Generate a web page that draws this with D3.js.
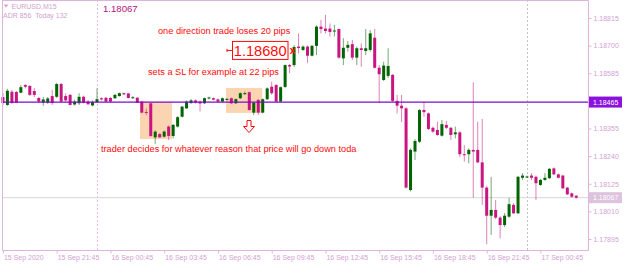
<!DOCTYPE html>
<html>
<head>
<meta charset="utf-8">
<script src="https://cdn.jsdelivr.net/npm/d3@7"></script>
<style>
html, body { margin: 0; padding: 0; background: #fff; overflow: hidden; }
svg { display: block; font-family: "Liberation Sans", Arial, sans-serif; }
</style>
</head>
<body>
<div class="container"></div>
<script>
const WIDTH = 625;
const HEIGHT = 265;
const PLOT_LEFT = 2;
const PLOT_RIGHT = 588;
const PLOT_BOTTOM = 250.5;

// EURUSD M15, first visible bar 15 Sep 18:45, one bar every 15 minutes
const FIRST_BAR = "2020-09-15 18:45";

const open = [
  1.18486, 1.18453, 1.18508, 1.18507, 1.18504, 1.18536, 1.18532, 1.18511, 1.18482, 1.18463,
  1.18463, 1.18490, 1.18487, 1.18540, 1.18490, 1.18495, 1.18455, 1.18460, 1.18487, 1.18467,
  1.18451, 1.18465, 1.18481, 1.18483, 1.18482, 1.18481, 1.18490, 1.18502, 1.18501, 1.18481,
  1.18483, 1.18467, 1.18424, 1.18460, 1.18318, 1.18332, 1.18321, 1.18363, 1.18324, 1.18363,
  1.18404, 1.18439, 1.18461, 1.18472, 1.18467, 1.18460, 1.18480, 1.18481, 1.18476, 1.18467,
  1.18476, 1.18481, 1.18460, 1.18481, 1.18499, 1.18506, 1.18421, 1.18474, 1.18421, 1.18477,
  1.18529, 1.18536, 1.18467, 1.18528, 1.18619, 1.18619, 1.18696, 1.18682, 1.18696, 1.18658,
  1.18699, 1.18779, 1.18771, 1.18771, 1.18759, 1.18769, 1.18647, 1.18691, 1.18706, 1.18650,
  1.18689, 1.18678, 1.18682, 1.18733, 1.18608, 1.18557, 1.18574, 1.18578, 1.18470, 1.18450,
  1.18439, 1.18099, 1.18259, 1.18300, 1.18432, 1.18418, 1.18358, 1.18349, 1.18325, 1.18370,
  1.18358, 1.18331, 1.18339, 1.18248, 1.18248, 1.18266, 1.18266, 1.18214, 1.18109, 1.17992,
  1.18016, 1.17984, 1.17953, 1.17988, 1.18037, 1.18002, 1.18150, 1.18153, 1.18159, 1.18154,
  1.18120, 1.18141, 1.18148, 1.18189, 1.18164, 1.18159, 1.18109, 1.18085, 1.18075
];
const high = [
  1.18503, 1.18520, 1.18515, 1.18511, 1.18536, 1.18540, 1.18536, 1.18524, 1.18486, 1.18486,
  1.18486, 1.18515, 1.18545, 1.18545, 1.18501, 1.18499, 1.18476, 1.18502, 1.18492, 1.18474,
  1.18472, 1.18522, 1.18484, 1.18486, 1.18486, 1.18499, 1.18505, 1.18504, 1.18503, 1.18490,
  1.18486, 1.18470, 1.18438, 1.18461, 1.18347, 1.18336, 1.18347, 1.18368, 1.18374, 1.18407,
  1.18449, 1.18472, 1.18478, 1.18476, 1.18472, 1.18484, 1.18488, 1.18484, 1.18480, 1.18484,
  1.18482, 1.18484, 1.18480, 1.18505, 1.18509, 1.18509, 1.18465, 1.18478, 1.18480, 1.18526,
  1.18550, 1.18540, 1.18530, 1.18622, 1.18624, 1.18703, 1.18751, 1.18701, 1.18701, 1.18703,
  1.18784, 1.18807, 1.18828, 1.18792, 1.18786, 1.18771, 1.18731, 1.18719, 1.18724, 1.18696,
  1.18710, 1.18769, 1.18765, 1.18769, 1.18619, 1.18633, 1.18689, 1.18582, 1.18495, 1.18495,
  1.18445, 1.18272, 1.18311, 1.18436, 1.18467, 1.18422, 1.18363, 1.18383, 1.18390, 1.18386,
  1.18361, 1.18363, 1.18343, 1.18286, 1.18273, 1.18547, 1.18383, 1.18395, 1.18116, 1.18154,
  1.18057, 1.17991, 1.18003, 1.18066, 1.18045, 1.18157, 1.18169, 1.18159, 1.18169, 1.18159,
  1.18145, 1.18169, 1.18191, 1.18193, 1.18168, 1.18162, 1.18112, 1.18089, 1.18078
];
const low = [
  1.18453, 1.18449, 1.18457, 1.18461, 1.18502, 1.18522, 1.18490, 1.18486, 1.18461, 1.18449,
  1.18457, 1.18453, 1.18482, 1.18463, 1.18467, 1.18451, 1.18451, 1.18453, 1.18459, 1.18453,
  1.18447, 1.18461, 1.18472, 1.18465, 1.18463, 1.18478, 1.18488, 1.18495, 1.18480, 1.18478,
  1.18461, 1.18418, 1.18411, 1.18320, 1.18291, 1.18316, 1.18318, 1.18307, 1.18314, 1.18359,
  1.18401, 1.18436, 1.18457, 1.18459, 1.18426, 1.18457, 1.18476, 1.18472, 1.18465, 1.18465,
  1.18472, 1.18457, 1.18457, 1.18478, 1.18495, 1.18430, 1.18411, 1.18411, 1.18418, 1.18474,
  1.18495, 1.18463, 1.18463, 1.18524, 1.18585, 1.18611, 1.18668, 1.18678, 1.18628, 1.18655,
  1.18661, 1.18751, 1.18751, 1.18738, 1.18738, 1.18646, 1.18619, 1.18675, 1.18640, 1.18619,
  1.18612, 1.18661, 1.18675, 1.18605, 1.18461, 1.18553, 1.18565, 1.18465, 1.18418, 1.18382,
  1.18105, 1.18093, 1.18224, 1.18295, 1.18404, 1.18349, 1.18336, 1.18324, 1.18321, 1.18353,
  1.18307, 1.18314, 1.18236, 1.18217, 1.18210, 1.18067, 1.18211, 1.18037, 1.17873, 1.17912,
  1.17978, 1.17898, 1.17945, 1.17983, 1.17999, 1.17999, 1.18141, 1.18149, 1.18141, 1.18057,
  1.18116, 1.18137, 1.18145, 1.18162, 1.18147, 1.18103, 1.18078, 1.18066, 1.18063
];
const close = [
  1.18461, 1.18512, 1.18462, 1.18463, 1.18527, 1.18529, 1.18495, 1.18495, 1.18467, 1.18476,
  1.18480, 1.18461, 1.18540, 1.18467, 1.18472, 1.18453, 1.18467, 1.18487, 1.18462, 1.18456,
  1.18465, 1.18477, 1.18476, 1.18467, 1.18467, 1.18495, 1.18502, 1.18497, 1.18482, 1.18485,
  1.18462, 1.18421, 1.18420, 1.18324, 1.18342, 1.18318, 1.18342, 1.18324, 1.18370, 1.18402,
  1.18446, 1.18467, 1.18472, 1.18463, 1.18459, 1.18481, 1.18484, 1.18475, 1.18467, 1.18481,
  1.18478, 1.18460, 1.18477, 1.18502, 1.18502, 1.18432, 1.18462, 1.18421, 1.18477, 1.18522,
  1.18502, 1.18467, 1.18527, 1.18619, 1.18613, 1.18694, 1.18690, 1.18696, 1.18658, 1.18699,
  1.18779, 1.18769, 1.18761, 1.18757, 1.18763, 1.18650, 1.18691, 1.18703, 1.18650, 1.18689,
  1.18682, 1.18689, 1.18751, 1.18608, 1.18581, 1.18617, 1.18615, 1.18470, 1.18450, 1.18439,
  1.18109, 1.18266, 1.18303, 1.18432, 1.18423, 1.18353, 1.18342, 1.18328, 1.18373, 1.18358,
  1.18328, 1.18339, 1.18248, 1.18244, 1.18266, 1.18259, 1.18214, 1.18109, 1.17992, 1.18016,
  1.17984, 1.17953, 1.17992, 1.18040, 1.18002, 1.18154, 1.18159, 1.18155, 1.18150, 1.18127,
  1.18141, 1.18150, 1.18187, 1.18164, 1.18150, 1.18106, 1.18081, 1.18071, 1.18067
];

const priceTicks = [1.18815, 1.18700, 1.18585, 1.18355, 1.18240, 1.18125, 1.18010, 1.17895];
const timeTicks = ["2020-09-15 18:45", "2020-09-15 21:45", "2020-09-16 00:45", "2020-09-16 03:45",
  "2020-09-16 06:45", "2020-09-16 09:45", "2020-09-16 12:45", "2020-09-16 15:45",
  "2020-09-16 18:45", "2020-09-16 21:45", "2020-09-17 00:45"];
const timeLabels = ["15 Sep 2020", "15 Sep 21:45", "16 Sep 00:45", "16 Sep 03:45", "16 Sep 06:45",
  "16 Sep 09:45", "16 Sep 12:45", "16 Sep 15:45", "16 Sep 18:45", "16 Sep 21:45", "17 Sep 00:45"];
const daySeparators = ["2020-09-16 00:00", "2020-09-17 00:00"];

const levelPrice = 1.18465;
const bidPrice = 1.18067;
const stopPrice = 1.18680;

const zoneFrom = ["2020-09-16 02:24", "2020-09-16 07:12"];
const zoneTo = ["2020-09-16 04:11", "2020-09-16 09:13"];
const zoneTop = [1.18466, 1.18524];
const zoneBottom = [1.18311, 1.18420];

const parseTime = d3.timeParse("%Y-%m-%d %H:%M");

const AXIS_COLOR = "#dcb4dc";
const TEXT_COLOR = "#d2a2d2";
const BULL = "#006400";
const BEAR = "#c8157f";
const RED = "#ff0a0a";

var xScale = d3.scaleTime()
  .domain([parseTime("2020-09-16 00:00"), parseTime("2020-09-17 00:00")])
  .range([97, 527]);

var yScale = d3.scaleLinear()
  .domain([1.17895, 1.18815])
  .range([239, 18]);

var buildBars = function () {
  var start = parseTime(FIRST_BAR);
  var bars = [];
  for (var i = 0; i < open.length; i++) {
    bars.push({
      t: d3.timeMinute.offset(start, 15 * i),
      o: open[i], h: high[i], l: low[i], c: close[i]
    });
  }
  return bars;
};

var drawChart = function () {
  var svg = d3.select(".container").append("svg")
    .attr("width", WIDTH)
    .attr("height", HEIGHT);

  svg.append("rect").attr("width", WIDTH).attr("height", HEIGHT).attr("fill", "#fff");

  // shaded zones
  svg.append("g").selectAll("rect")
    .data(zoneFrom)
    .enter().append("rect")
    .attr("x", function (d) { return xScale(parseTime(d)); })
    .attr("width", function (d, i) { return xScale(parseTime(zoneTo[i])) - xScale(parseTime(d)); })
    .attr("y", function (d, i) { return yScale(zoneTop[i]); })
    .attr("height", function (d, i) { return yScale(zoneBottom[i]) - yScale(zoneTop[i]); })
    .attr("fill", "#fbd4b2");

  // day separators
  svg.append("g").selectAll("line")
    .data(daySeparators)
    .enter().append("line")
    .attr("x1", function (d) { return Math.round(xScale(parseTime(d))) + 0.5; })
    .attr("x2", function (d) { return Math.round(xScale(parseTime(d))) + 0.5; })
    .attr("y1", 0).attr("y2", PLOT_BOTTOM)
    .attr("stroke", function (d, i) { return i === 0 ? "#e6bce6" : "#c4c4c4"; })
    .attr("stroke-dasharray", "2,2");

  // bid line
  svg.append("line")
    .attr("x1", PLOT_LEFT).attr("x2", PLOT_RIGHT)
    .attr("y1", yScale(bidPrice)).attr("y2", yScale(bidPrice))
    .attr("stroke", "#d6d6d6");

  // candles
  var bars = buildBars();
  var candles = svg.append("g").selectAll("g")
    .data(bars)
    .enter().append("g");

  candles.append("line")
    .attr("x1", function (d) { return xScale(d.t); })
    .attr("x2", function (d) { return xScale(d.t); })
    .attr("y1", function (d) { return yScale(d.h); })
    .attr("y2", function (d) { return yScale(d.l); })
    .attr("stroke", function (d) { return d.c >= d.o ? BULL : BEAR; })
    .attr("stroke-opacity", 0.55)
    .attr("stroke-width", 1);

  candles.append("rect")
    .attr("x", function (d) { return xScale(d.t) - 1.5; })
    .attr("width", 3)
    .attr("y", function (d) { return yScale(Math.max(d.o, d.c)); })
    .attr("height", function (d) { return Math.max(1, Math.abs(yScale(d.o) - yScale(d.c))); })
    .attr("fill", function (d) { return d.c >= d.o ? BULL : BEAR; });

  // level line
  svg.append("line")
    .attr("x1", PLOT_LEFT).attr("x2", PLOT_RIGHT)
    .attr("y1", yScale(levelPrice)).attr("y2", yScale(levelPrice))
    .attr("stroke", "#7a0ccc")
    .attr("stroke-width", 1.4);

  // frame
  svg.append("path")
    .attr("d", "M" + (PLOT_LEFT + 0.5) + "," + PLOT_BOTTOM + "V0.5H" + (PLOT_RIGHT + 0.5) + "V" + PLOT_BOTTOM + "Z")
    .attr("fill", "none")
    .attr("stroke", AXIS_COLOR);

  // price axis
  var yAxis = d3.axisRight(yScale)
    .tickValues(priceTicks)
    .tickSize(3)
    .tickPadding(2)
    .tickFormat(d3.format(".5f"));
  var ya = svg.append("g")
    .attr("transform", "translate(" + (PLOT_RIGHT + 0.5) + ",0)")
    .call(yAxis);
  ya.select(".domain").remove();
  ya.selectAll("line").attr("stroke", AXIS_COLOR);
  ya.selectAll("text").attr("fill", TEXT_COLOR).style("font-size", "7px")
    .style("font-family", "'Liberation Sans', Arial, sans-serif");

  // time axis
  var tickDates = timeTicks.map(parseTime);
  var xAxis = d3.axisBottom(xScale)
    .tickValues(tickDates)
    .tickSize(3)
    .tickPadding(2)
    .tickFormat(function (d, i) { return timeLabels[i]; });
  var xa = svg.append("g")
    .attr("transform", "translate(0," + PLOT_BOTTOM + ")")
    .call(xAxis);
  xa.select(".domain").remove();
  xa.selectAll("line").attr("stroke", AXIS_COLOR);
  xa.selectAll("text").attr("fill", TEXT_COLOR).style("font-size", "7px")
    .style("font-family", "'Liberation Sans', Arial, sans-serif")
    .attr("text-anchor", "start").attr("x", 0.5);

  // price tags on the right
  var tags = [
    { p: levelPrice, fill: "#8a12dc" },
    { p: bidPrice, fill: "#dcc2dc" }
  ];
  var tag = svg.append("g").selectAll("g").data(tags).enter().append("g");
  tag.append("rect")
    .attr("x", PLOT_RIGHT + 1)
    .attr("y", function (d) { return yScale(d.p) - 5.5; })
    .attr("width", WIDTH - PLOT_RIGHT - 4)
    .attr("height", 11)
    .attr("fill", function (d) { return d.fill; });
  tag.append("text")
    .attr("x", 593)
    .attr("y", function (d) { return yScale(d.p) + 2.5; })
    .attr("fill", "#fff")
    .style("font-size", "7px")
    .text(function (d) { return d3.format(".5f")(d.p); });

  // header
  svg.append("path").attr("d", "M3.5,4.5h5l-2.5,3z").attr("fill", TEXT_COLOR);
  svg.append("text").attr("x", 11.5).attr("y", 8.7).attr("fill", TEXT_COLOR)
    .style("font-size", "7px").text("EURUSD,M15");
  svg.append("text").attr("x", 3).attr("y", 17.6).attr("fill", TEXT_COLOR)
    .style("font-size", "7px").attr("xml:space", "preserve").text("ADR 856  Today 132");
  svg.append("text").attr("x", 103).attr("y", 12).attr("fill", "#b4147f")
    .style("font-size", "9.6px").text(d3.format(".5f")(bidPrice));

  // annotations
  var notes = svg.append("g").attr("fill", RED).style("font-size", "9.2px");
  notes.append("text").attr("x", 158).attr("y", 34.3).text("one direction trade loses 20 pips");
  notes.append("text").attr("x", 148).attr("y", 75.3).text("sets a SL for example at 22 pips");
  notes.append("text").attr("x", 101).attr("y", 152.3)
    .text("trader decides for whatever reason that price will go down toda");

  var sy = yScale(stopPrice);
  svg.append("rect")
    .attr("x", 232.5).attr("y", sy - 9)
    .attr("width", 55.5).attr("height", 18)
    .attr("fill", "#fff").attr("stroke", RED);
  svg.append("text")
    .attr("x", 260.2).attr("y", sy + 5.3)
    .attr("text-anchor", "middle")
    .attr("fill", RED)
    .style("font-size", "14.6px")
    .text(d3.format(".5f")(stopPrice));
  svg.append("path")
    .attr("d", "M227,"+ (sy - 1.5) + "v3M227," + sy + "h5")
    .attr("stroke", RED).attr("fill", "none");
  svg.append("text")
    .attr("x", 292.5).attr("y", sy + 3.5)
    .attr("text-anchor", "middle")
    .attr("fill", RED)
    .style("font-size", "10px").style("font-weight", "bold")
    .text("x");

  // down arrow
  svg.append("path")
    .attr("d", "M247,120.5h4v6h3.5l-5.5,6l-5.5,-6h3.5z")
    .attr("fill", "#fff")
    .attr("stroke", RED)
    .attr("stroke-width", 1);
};

window.onload = drawChart;
</script>
</body>
</html>
